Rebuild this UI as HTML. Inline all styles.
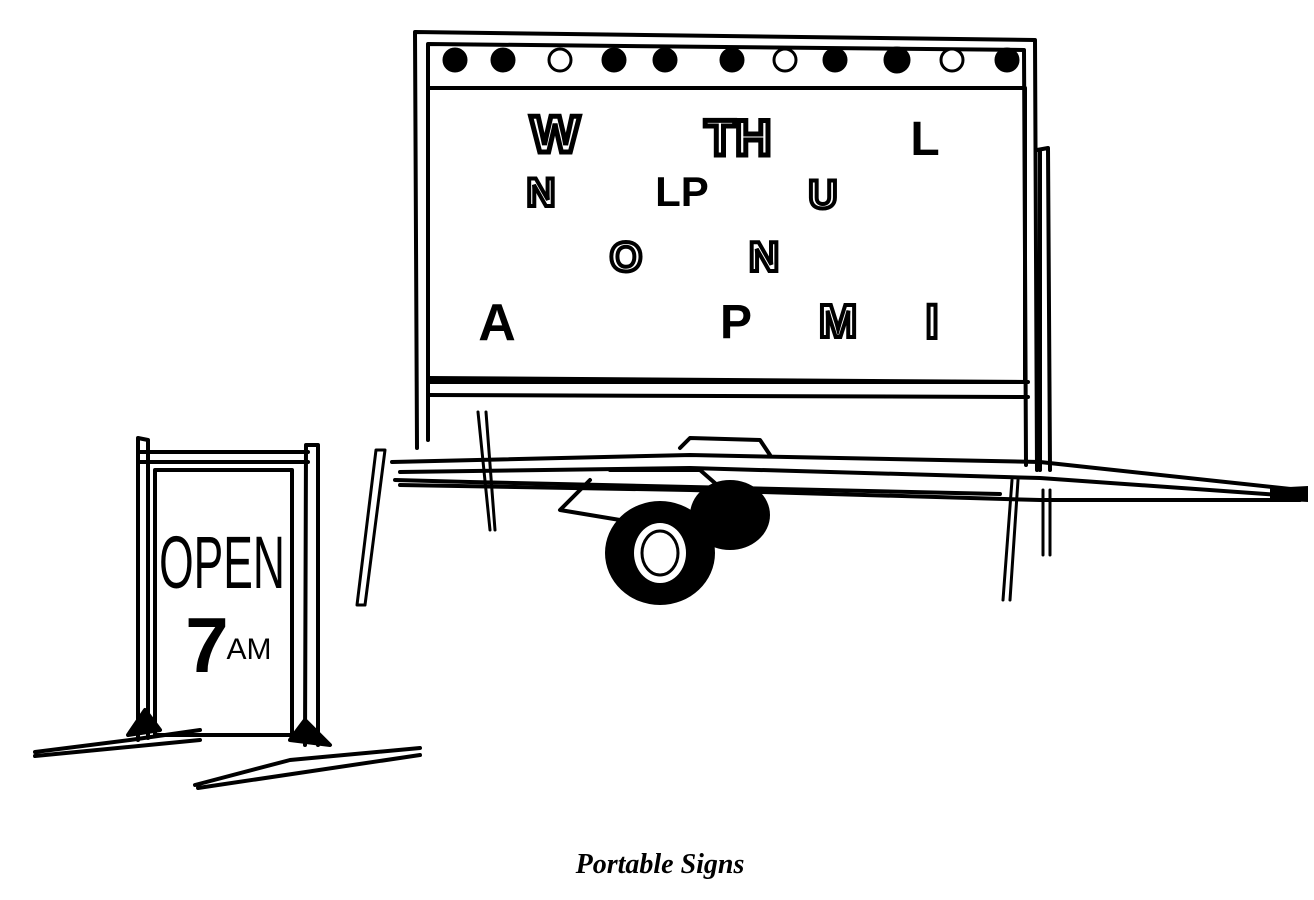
<!DOCTYPE html>
<html><head><meta charset="utf-8"><style>
html,body{margin:0;padding:0;background:#fff;}
svg{display:block}
</style></head><body>
<svg width="1314" height="900" viewBox="0 0 1314 900" xmlns="http://www.w3.org/2000/svg">
<g fill="none" stroke="#000" stroke-width="4" stroke-linecap="round" stroke-linejoin="round">
<!-- big sign -->
<path d="M417 448 L415 32 L1035 40 L1037 470"/>
<path d="M428 440 L428 44 L1024 50 L1026 465"/>
<rect x="428" y="88" width="597" height="294"/>
<path d="M428 378 L1028 382 M428 395 L1028 397"/>
<path d="M1037 150 L1048 148 L1050 470 M1040 470 L1040 150"/>
<!-- trailer frame -->
<path d="M392 462 L690 455 L1040 462 L1300 490"/>
<path d="M400 472 L690 468 L1040 478 L1280 495"/>
<path d="M400 485 L690 490 L1040 500 L1300 500"/>
<path d="M395 480 L470 482 L1000 494"/>
<path d="M680 448 L690 438 L760 440 L770 455"/>
<path d="M610 470 L700 470 L740 505 L700 520 M590 480 L560 510 L620 520 L700 520"/>
<!-- legs -->
<path d="M357 605 L376 450 L385 450 L365 605 Z" stroke-width="3"/>
<path d="M478 412 L490 530 M486 412 L495 530" stroke-width="3"/>
<path d="M1003 600 L1012 480 M1010 600 L1018 480" stroke-width="3"/>
<path d="M1043 490 L1043 555 M1050 490 L1050 555" stroke-width="3"/>
<!-- A-frame sign -->
<path d="M138 740 L138 438 L148 440 L148 738"/>
<path d="M305 745 L306 445 L318 445 L318 745"/>
<path d="M140 452 L308 452 M140 462 L308 462"/>
<rect x="155" y="470" width="137" height="265"/>
<path d="M35 752 L130 740 L200 730 M35 756 L200 740"/>
<path d="M195 785 L290 760 L420 748 M198 788 L420 755"/>
<path d="M128 735 L145 710 L160 730 Z M290 740 L305 720 L330 745 Z" fill="#000"/>
</g>
<!-- wheel -->
<ellipse cx="730" cy="515" rx="40" ry="35" fill="#000"/>
<ellipse cx="660" cy="553" rx="55" ry="52" fill="#000"/>
<ellipse cx="660" cy="553" rx="26" ry="30" fill="#fff"/>
<ellipse cx="660" cy="553" rx="18" ry="22" fill="none" stroke="#000" stroke-width="3"/>
<path d="M1270 488 L1308 486 L1308 502 L1270 500 Z" fill="#000"/>
<!-- lights -->
<g stroke="#000" stroke-width="3">
<circle cx="455" cy="60" r="11" fill="#000"/>
<circle cx="503" cy="60" r="11" fill="#000"/>
<circle cx="560" cy="60" r="11" fill="#fff"/>
<circle cx="614" cy="60" r="11" fill="#000"/>
<circle cx="665" cy="60" r="11" fill="#000"/>
<circle cx="732" cy="60" r="11" fill="#000"/>
<circle cx="785" cy="60" r="11" fill="#fff"/>
<circle cx="835" cy="60" r="11" fill="#000"/>
<circle cx="897" cy="60" r="12" fill="#000"/>
<circle cx="952" cy="60" r="11" fill="#fff"/>
<circle cx="1007" cy="60" r="11" fill="#000"/>
</g>
<g font-family="Liberation Sans, sans-serif" font-weight="bold" text-anchor="middle">
<text x="555" y="152" font-size="52" fill="none" stroke="#000" stroke-width="5">W</text>
<text x="738" y="155" font-size="50" fill="none" stroke="#000" stroke-width="5">TH</text>
<text x="925" y="155" font-size="48">L</text>
<text x="541" y="206" font-size="40" fill="none" stroke="#000" stroke-width="4">N</text>
<text x="682" y="206" font-size="42">LP</text>
<text x="823" y="208" font-size="40" fill="none" stroke="#000" stroke-width="4">U</text>
<text x="626" y="271" font-size="42" fill="none" stroke="#000" stroke-width="4">O</text>
<text x="764" y="271" font-size="42" fill="none" stroke="#000" stroke-width="4">N</text>
<text x="497" y="340" font-size="52">A</text>
<text x="736" y="338" font-size="48">P</text>
<text x="838" y="337" font-size="46" fill="none" stroke="#000" stroke-width="4">M</text>
<text x="932" y="338" font-size="48" fill="none" stroke="#000" stroke-width="4">I</text>
</g>
<g font-family="Liberation Sans Narrow, Liberation Sans, sans-serif" text-anchor="middle">
<text x="222" y="588" font-size="74" transform="translate(222 0) scale(0.6 1) translate(-222 0)">OPEN</text>
<text x="207" y="672" font-size="78" font-weight="bold">7</text>
<text x="249" y="659" font-size="30">AM</text>
</g>
<text x="660" y="873" font-family="Liberation Serif, serif" font-style="italic" font-weight="bold" font-size="28" text-anchor="middle">Portable Signs</text>
</svg>
</body></html>
